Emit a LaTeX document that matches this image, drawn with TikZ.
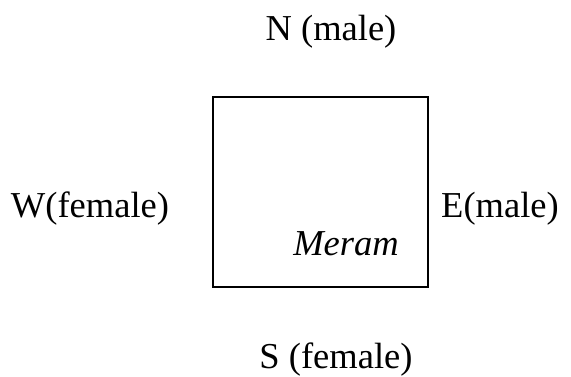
\documentclass[tikz,border=0pt]{standalone}
\usepackage{fontspec}
\setmainfont{Liberation Serif}
\begin{document}
\begin{tikzpicture}[x=1pt,y=-1pt]
	\useasboundingbox (0,0) rectangle (571,376);
	\node [draw,line width=1.2pt,minimum width=215pt,minimum height=190pt,inner sep=0pt] (M) at (320.5,192) {};
	\begin{scope}[every node/.style={anchor=base,inner sep=0pt,font=\fontsize{36.5}{42}\selectfont}]
	\node (N) at (331,40) {N (male)};
	\node (W) at (90,217) {W(female)};
	\node (E) at (500,217) {E(male)};
	\node (S) at (336,368) {S (female)};
	\node (R) at (346,255) {\itshape Meram};
	\end{scope}
\end{tikzpicture}
\end{document}
